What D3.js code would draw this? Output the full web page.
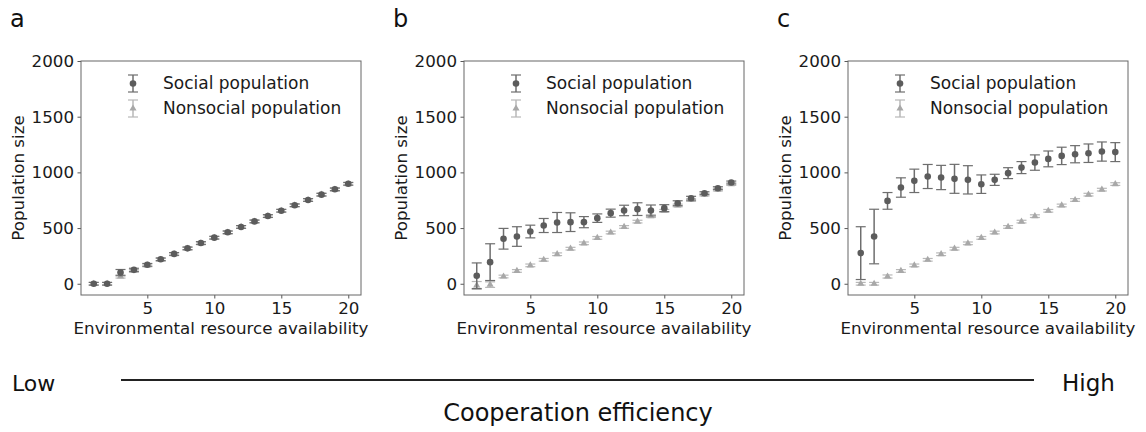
<!DOCTYPE html>
<html><head><meta charset="utf-8">
<script src="https://cdn.jsdelivr.net/npm/d3@7"></script>
<style>body{margin:0;background:#fff;} svg{display:block;font-family:"DejaVu Sans",sans-serif;}</style>
</head><body>
<svg id="chart" width="1146" height="432"></svg>
<script>
const xValues = [1,2,3,4,5,6,7,8,9,10,11,12,13,14,15,16,17,18,19,20];
const panelLabels = ["a","b","c"];
const yTicks = [0,500,1000,1500,2000];
const xTicks = [5,10,15,20];

const nonsocialMean = [0,0,65,115,165,215,265,315,363,412,460,510,558,607,655,703,752,800,845,895];
const nonsocialErr = [12,12,14,12,12,12,12,12,12,12,12,12,12,12,12,12,12,12,12,12];
const nonsocialMeanB = [-15,-8,65,115,165,215,265,315,363,412,460,510,558,607,655,703,752,800,845,895];
const nonsocialErrB = [35,25,12,12,12,12,12,12,12,12,12,12,12,12,12,12,12,12,12,12];

const socialMeanA = [0,0,100,125,170,220,268,318,366,414,462,510,560,608,656,705,752,800,848,898];
const socialErrA = [12,12,28,14,12,12,12,12,12,12,12,12,12,12,12,12,12,12,12,12];
const socialMeanB = [72,194,404,424,469,523,550,553,553,589,634,658,670,658,679,723,768,813,858,909];
const socialErrB = [115,165,93,88,57,63,90,84,50,38,36,47,57,49,31,22,17,13,13,13];
const socialMeanC = [275,424,744,864,924,963,954,942,933,894,933,993,1043,1088,1121,1148,1163,1172,1187,1182];
const socialErrC = [237,245,75,87,105,108,109,130,127,83,50,49,54,69,71,78,77,83,86,85];

const panels = [
  {label:panelLabels[0], social:socialMeanA, socialErr:socialErrA, non:nonsocialMean, nonErr:nonsocialErr},
  {label:panelLabels[1], social:socialMeanB, socialErr:socialErrB, non:nonsocialMeanB, nonErr:nonsocialErrB},
  {label:panelLabels[2], social:socialMeanC, socialErr:socialErrC, non:nonsocialMean, nonErr:nonsocialErr}
];

const svg = d3.select("#chart");
const lefts = [81, 464, 848];
const W = 280, plotTop = 61, plotBottom = 295;
const socialColor = "#5c5c5c", socialErrColor = "#6e6e6e";
const nonColor = "#a8a8a8", nonErrColor = "#b8b8b8";
const textColor = "#1a1a1a";
const cap = 5;
const fs = 16.7;

const y = d3.scaleLinear().domain([-101, 2000]).range([plotBottom, plotTop]);

function drawErr(g, cx, cy1, cy2, color) {
  g.append("line").attr("x1", cx).attr("x2", cx).attr("y1", cy1).attr("y2", cy2)
    .attr("stroke", color).attr("stroke-width", 1.5);
  [cy1, cy2].forEach(v => g.append("line").attr("x1", cx-cap).attr("x2", cx+cap)
    .attr("y1", v).attr("y2", v).attr("stroke", color).attr("stroke-width", 1.2));
}
const tri = d3.symbol().type(d3.symbolTriangle).size(22);

panels.forEach((p, i) => {
  const L = lefts[i];
  const x = d3.scaleLinear().domain([0.05, 20.95]).range([L, L + W]);
  const g = svg.append("g");

  const xa = g.append("g").attr("transform", `translate(0,${plotBottom})`)
    .call(d3.axisBottom(x).tickValues(xTicks).tickFormat(d3.format("d")).tickSize(3.5).tickPadding(3.5).tickSizeOuter(0));
  const ya = g.append("g").attr("transform", `translate(${L},0)`)
    .call(d3.axisLeft(y).tickValues(yTicks).tickFormat(d3.format("d")).tickSize(3.5).tickPadding(3.5).tickSizeOuter(0));
  [xa, ya].forEach(a => {
    a.select(".domain").remove();
    a.selectAll("line").attr("stroke", "#444").attr("stroke-width", 0.9);
    a.selectAll("text").attr("font-size", fs).attr("fill", textColor).attr("font-family", "DejaVu Sans");
  });
  g.append("rect").attr("x", L).attr("y", plotTop).attr("width", W).attr("height", plotBottom - plotTop)
    .attr("fill", "none").attr("stroke", "#666").attr("stroke-width", 1);

  const gn = g.append("g");
  xValues.forEach((xv, j) => {
    drawErr(gn, x(xv), y(p.non[j] + p.nonErr[j]), y(p.non[j] - p.nonErr[j]), nonErrColor);
    gn.append("path").attr("d", tri).attr("transform", `translate(${x(xv)},${y(p.non[j])})`).attr("fill", nonColor);
  });
  const gs = g.append("g");
  xValues.forEach((xv, j) => {
    drawErr(gs, x(xv), y(p.social[j] + p.socialErr[j]), y(p.social[j] - p.socialErr[j]), socialErrColor);
    gs.append("circle").attr("cx", x(xv)).attr("cy", y(p.social[j])).attr("r", 3.3).attr("fill", socialColor);
  });

  const lx = L + 52;
  drawErr(g, lx, 75, 92, socialErrColor);
  g.append("circle").attr("cx", lx).attr("cy", 83.5).attr("r", 3.3).attr("fill", socialColor);
  drawErr(g, lx, 100, 117, nonErrColor);
  g.append("path").attr("d", tri).attr("transform", `translate(${lx},108.5)`).attr("fill", nonColor);
  g.append("text").attr("x", L + 82).attr("y", 89).attr("font-size", 17).attr("fill", textColor).text("Social population");
  g.append("text").attr("x", L + 82).attr("y", 114).attr("font-size", 17).attr("fill", textColor).text("Nonsocial population");

  g.append("text").attr("x", L + W/2).attr("y", 334).attr("text-anchor", "middle")
    .attr("font-size", fs).attr("fill", textColor).text("Environmental resource availability");
  g.append("text").attr("transform", `translate(${L - 57},178) rotate(-90)`).attr("text-anchor", "middle")
    .attr("font-size", fs).attr("fill", textColor).text("Population size");

  svg.append("text").attr("x", L - 71).attr("y", 27).attr("font-size", 24).attr("fill", "#111").text(p.label);
});

svg.append("text").attr("x", 12).attr("y", 391).attr("font-size", 22).attr("fill", "#111").text("Low");
svg.append("text").attr("x", 1062).attr("y", 391).attr("font-size", 23).attr("fill", "#111").text("High");
svg.append("line").attr("x1", 121).attr("x2", 1034).attr("y1", 380).attr("y2", 380).attr("stroke", "#222").attr("stroke-width", 2);
svg.append("text").attr("x", 578).attr("y", 421).attr("text-anchor", "middle").attr("font-size", 24).attr("fill", "#111").text("Cooperation efficiency");
</script>
</body></html>
